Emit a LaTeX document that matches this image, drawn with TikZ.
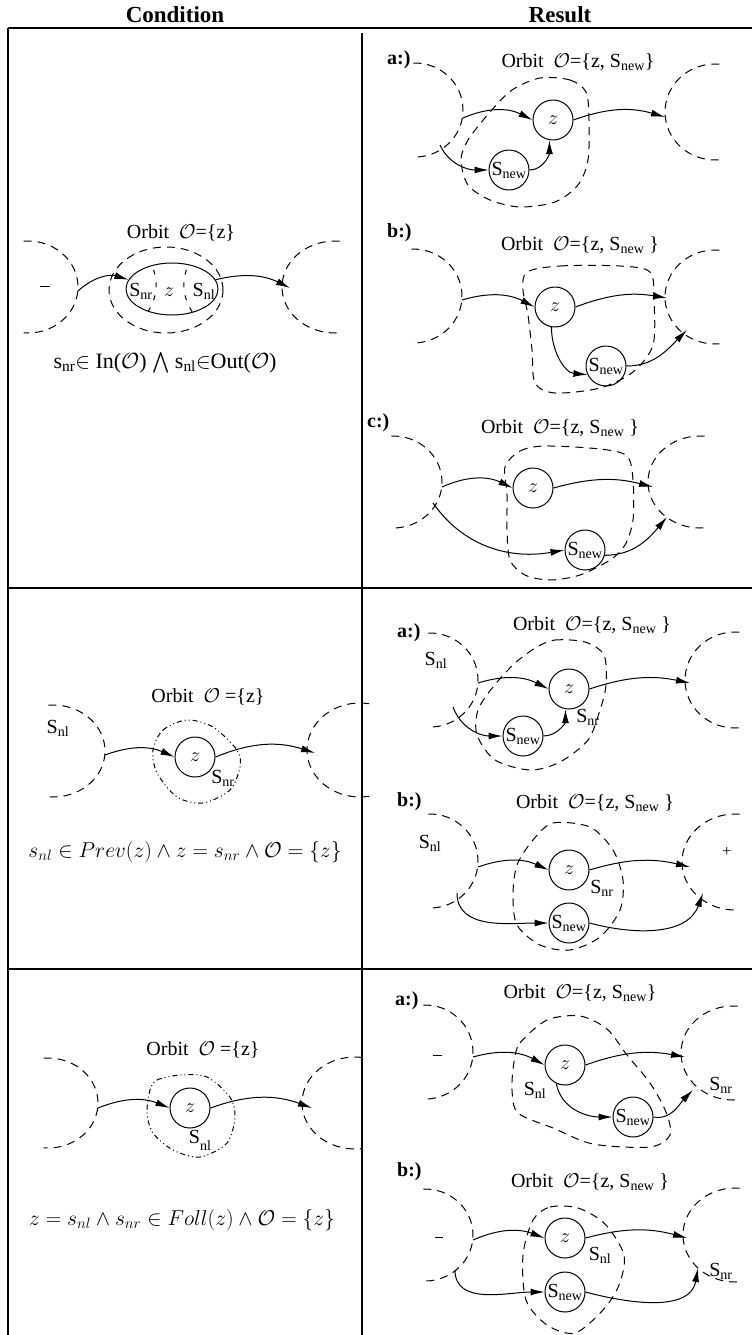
\RequirePackage{fix-cm}
\documentclass[tikz,border=0pt]{standalone}
\usepackage{amsmath}
\usepackage[no-math]{fontspec}
\setmainfont{Liberation Serif}
\usetikzlibrary{arrows.meta,shapes.geometric}
\tikzset{
  tabline/.style={line width=1.2pt},
  bound/.style={line width=1pt, dash pattern=on 8pt off 6pt},
  orbline/.style={line width=1pt, dash pattern=on 8pt off 6pt},
  orbdot/.style={line width=1pt, dash pattern=on 5pt off 3pt on 1pt off 3pt on 1pt off 3pt},
  st/.style={circle, draw, line width=1pt, minimum size=40pt, inner sep=0pt},
  arr/.style={line width=1pt, -{Latex[length=14pt,width=7pt]}},
  tag/.style={anchor=base west, inner sep=0pt, font=\fontsize{20}{24}\selectfont\bfseries},
  txt/.style={anchor=base, inner sep=0pt},
}
\newcommand{\orbsym}{$\mathcal{O}$}
\newcommand{\snew}{S\textsubscript{new}}
\newcommand{\snl}{S\textsubscript{nl}}
\newcommand{\snr}{S\textsubscript{nr}}
\newcommand{\zz}{$z$}
\begin{document}
\begin{tikzpicture}[x=1pt, y=1pt, line join=round]
\fontsize{20}{24}\selectfont
\useasboundingbox (0,0) rectangle (752,-1335);
\node[txt, font=\fontsize{23}{26}\selectfont\bfseries] (hcond) at (175,-23) {Condition};
\node[txt, font=\fontsize{23}{26}\selectfont\bfseries] (hres) at (560,-23) {Result};
\draw[tabline] (8,-28) -- (752,-28);
\draw[tabline] (8,-28) -- (8,-1335);
\draw[tabline] (362,-33) -- (362,-1335);
\draw[tabline] (8,-588) -- (752,-588);
\draw[tabline] (8,-969) -- (752,-969);
% row 1, condition
\node[txt] (o1) at (181,-238) {Orbit~~\orbsym=\{z\}};
\draw[bound] (28,-287) ++(95:50 and 46) arc[start angle=95, end angle=-95, x radius=50, y radius=46];
\draw[bound] (335,-287) ++(85:53 and 46) arc[start angle=85, end angle=275, x radius=53, y radius=46];
\draw[line width=1pt] (40,-286) -- (50,-286);
\draw[orbline] (166,-290) ellipse[x radius=57, y radius=43];
\node[ellipse, draw, line width=1pt, minimum width=92pt, minimum height=52pt, inner sep=0pt] (e1) at (172,-289) {};
\begin{scope}
  \clip (172,-289) ellipse[x radius=46, y radius=26];
  \draw[bound, dash pattern=on 5pt off 8pt] (148,-258) .. controls (160,-278) and (160,-300) .. (140,-322);
  \draw[bound, dash pattern=on 5pt off 8pt] (192,-258) .. controls (180,-278) and (180,-300) .. (200,-322);
\end{scope}
\node[txt] (snr1) at (141,-296) {\snr};
\node[txt] (z1) at (169,-296) {\zz};
\node[txt] (snl1) at (204,-296) {\snl};
\coordinate (in1) at (78,-291);
\coordinate (out1) at (290,-288);
\draw[arr] (in1) to[bend left=30] (e1.168);
\draw[arr] (e1.12) to[bend left=20] (out1);
\node[txt, font=\fontsize{22}{26}\selectfont] (f1) at (165,-368) {s\textsubscript{nr}$\in$ In(\orbsym) $\bigwedge$ s\textsubscript{nl}$\in$Out(\orbsym)};
% row 1, result a
\node[tag] (t1a) at (387,-65) {a:)};
\node[txt] (o1a) at (578,-68) {Orbit~~\orbsym=\{z, \snew\}};
\draw[bound] (415,-110) ++(92:48 and 47) arc[start angle=92, end angle=-92, x radius=48, y radius=47];
\draw[bound] (715,-112) ++(85:50 and 48) arc[start angle=85, end angle=275, x radius=50, y radius=48];
\draw[orbline] plot[smooth cycle] coordinates {(540,-78) (570,-80) (586,-92) (589,-120) (588,-160) (578,-185) (555,-202) (520,-207) (490,-200) (468,-185) (461,-160) (468,-140) (490,-112) (512,-90)};
\node[st] (z1a) at (553,-120) {\zz};
\node[st] (n1a) at (509,-170) {\snew};
\coordinate (in1a) at (463,-118);
\coordinate (low1a) at (440,-145);
\coordinate (out1a) at (665,-117);
\draw[arr] (in1a) to[bend left=25] (z1a.west);
\draw[arr] (z1a.east) to[bend left=18] (out1a);
\draw[arr] (low1a) to[out=-65, in=180] (n1a.west);
\draw[arr] (n1a.east) to[out=0, in=-90] (z1a.-100);
% row 1, result b
\node[tag] (t1b) at (387,-237) {b:)};
\node[txt] (o1b) at (580,-250) {Orbit~~\orbsym=\{z, \snew~\}};
\draw[bound] (413,-296) ++(92:49 and 47) arc[start angle=92, end angle=-92, x radius=49, y radius=47];
\draw[bound] (715,-297) ++(85:50 and 47) arc[start angle=85, end angle=275, x radius=50, y radius=47];
\draw[orbline] plot[smooth cycle] coordinates {(527,-272) (560,-266) (620,-266) (650,-272) (654,-300) (653,-345) (633,-372) (600,-388) (555,-393) (535,-383) (532,-350) (528,-315) (523,-290)};
\node[st] (z1b) at (555,-307) {\zz};
\node[st] (n1b) at (606,-366) {\snew};
\coordinate (in1b) at (462,-300);
\coordinate (out1b) at (667,-298);
\coordinate (up1b) at (687,-330);
\draw[arr] (in1b) to[bend left=22] (z1b.west);
\draw[arr] (z1b.east) to[bend left=15] (out1b);
\draw[arr] (z1b.-100) to[out=-90, in=175] (n1b.205);
\draw[arr] (n1b.east) to[out=0, in=225] (up1b);
% row 1, result c
\node[tag] (t1c) at (367,-427) {c:)};
\node[txt] (o1c) at (560,-433) {Orbit~~\orbsym=\{z, \snew~\}};
\draw[bound] (393,-482) ++(92:49 and 46) arc[start angle=92, end angle=-92, x radius=49, y radius=46];
\draw[bound] (700,-482) ++(85:52 and 46) arc[start angle=85, end angle=275, x radius=52, y radius=46];
\draw[orbline] plot[smooth cycle] coordinates {(505,-467) (520,-451) (545,-446) (600,-449) (627,-456) (633,-480) (633,-520) (625,-545) (610,-560) (580,-575) (550,-580) (525,-575) (510,-560) (507,-530) (507,-495)};
\node[st] (z1c) at (533,-488) {\zz};
\node[st] (n1c) at (585,-550) {\snew};
\coordinate (in1c) at (442,-487);
\coordinate (low1c) at (433,-503);
\coordinate (out1c) at (653,-487);
\coordinate (up1c) at (667,-517);
\draw[arr] (in1c) to[bend left=25] (z1c.west);
\draw[arr] (z1c.east) to[bend left=15] (out1c);
\draw[arr] (low1c) to[out=-55, in=190] (n1c.west);
\draw[arr] (n1c.-15) to[out=0, in=230] (up1c);
% row 2, condition
\node[txt] (o2) at (208,-702) {Orbit~~\orbsym~=\{z\}};
\draw[bound] (53,-751) ++(95:52 and 46) arc[start angle=95, end angle=-95, x radius=52, y radius=46];
\node[txt] (snl2) at (58,-733) {\snl};
\draw[bound] (360,-750) ++(80:53 and 47) arc[start angle=80, end angle=280, x radius=53, y radius=47];
\draw[orbdot] plot[smooth cycle] coordinates {(153,-750) (163,-730) (187,-720) (213,-727) (237,-750) (240,-767) (230,-790) (203,-803) (177,-797) (157,-773)};
\node[st] (z2) at (195,-757) {\zz};
\node[txt] (snr2) at (223,-783) {\snr};
\coordinate (in2) at (105,-755);
\coordinate (out2) at (315,-753);
\draw[arr] (in2) to[bend left=22] (z2.west);
\draw[arr] (z2.east) to[bend left=20] (out2);
\node[txt, font=\fontsize{21.5}{24}\selectfont] (f2) at (185,-857) {$s_{nl} \in Prev(z) \wedge z = s_{nr} \wedge \mathcal{O} = \{z\}$};
% row 2, result a
\node[tag] (t2a) at (397,-637) {a:)};
\node[txt] (o2a) at (592,-630) {Orbit~~\orbsym=\{z, \snew~\}};
\node[txt] (snl2a) at (436,-665) {\snl};
\draw[bound] (430,-680) ++(92:48 and 47) arc[start angle=92, end angle=-92, x radius=48, y radius=47];
\draw[bound] (735,-680) ++(85:50 and 48) arc[start angle=85, end angle=275, x radius=50, y radius=48];
\draw[orbline] plot[smooth cycle] coordinates {(537,-647) (555,-640) (585,-642) (604,-655) (606,-685) (600,-710) (588,-740) (560,-762) (530,-770) (495,-760) (477,-735) (478,-710) (493,-687) (515,-663)};
\node[st] (z2a) at (569,-689) {\zz};
\node[st] (n2a) at (523,-736) {\snew};
\node[txt] (snr2a) at (588,-722) {\snr};
\coordinate (in2a) at (478,-683);
\coordinate (low2a) at (453,-707);
\coordinate (out2a) at (690,-683);
\draw[arr] (in2a) to[bend left=22] (z2a.west);
\draw[arr] (z2a.east) to[bend left=15] (out2a);
\draw[arr] (low2a) to[out=-70, in=180] (n2a.west);
\draw[arr] (n2a.east) to[out=0, in=-90] (z2a.-100);
% row 2, result b
\node[tag] (t2b) at (397,-806) {b:)};
\node[txt] (o2b) at (595,-808) {Orbit~~\orbsym=\{z, \snew~\}};
\node[txt] (snl2b) at (430,-848) {\snl};
\draw[bound] (430,-861) ++(92:48 and 47) arc[start angle=92, end angle=-92, x radius=48, y radius=47];
\draw[bound] (735,-862) ++(85:53 and 48) arc[start angle=85, end angle=275, x radius=53, y radius=48];
\node[font=\fontsize{16}{18}\selectfont] (plus2b) at (727,-852) {+};
\draw[orbline] plot[smooth cycle] coordinates {(533,-840) (553,-823) (590,-827) (613,-850) (623,-880) (620,-910) (600,-937) (570,-950) (540,-945) (517,-925) (513,-895) (517,-865)};
\node[st] (z2b) at (569,-870) {\zz};
\node[txt] (snr2b) at (602,-893) {\snr};
\node[st] (n2b) at (569,-923) {\snew};
\coordinate (in2b) at (478,-867);
\coordinate (low2b) at (457,-893);
\coordinate (out2b) at (690,-867);
\coordinate (up2b) at (703,-893);
\draw[arr] (in2b) to[bend left=22] (z2b.west);
\draw[arr] (z2b.east) to[bend left=15] (out2b);
\draw[arr] (low2b) to[out=-90, in=180] (n2b.west);
\draw[arr] (n2b.east) to[out=-15, in=-110] (up2b);
% row 3, condition
\node[txt] (o3) at (203,-1055) {Orbit~~\orbsym~=\{z\}};
\draw[bound] (48,-1103) ++(95:50 and 45) arc[start angle=95, end angle=-95, x radius=50, y radius=45];
\draw[bound] (355,-1103) ++(82:53 and 46) arc[start angle=82, end angle=278, x radius=53, y radius=46];
\draw[orbdot] plot[smooth cycle] coordinates {(150,-1090) (157,-1080) (180,-1075) (207,-1077) (230,-1097) (235,-1117) (227,-1143) (200,-1157) (173,-1150) (153,-1133) (147,-1113)};
\node[st] (z3) at (190,-1108) {\zz};
\node[txt] (snl3) at (200,-1143) {S\raisebox{-7pt}{\fontsize{14}{16}\selectfont nl}};
\coordinate (in3) at (98,-1108);
\coordinate (out3) at (312,-1108);
\draw[arr] (in3) to[bend left=22] (z3.west);
\draw[arr] (z3.east) to[bend left=20] (out3);
\node[txt, font=\fontsize{21.5}{24}\selectfont] (f3) at (182,-1225) {$z = s_{nl} \wedge s_{nr} \in Foll(z) \wedge \mathcal{O} = \{z\}$};
% row 3, result a
\node[tag] (t3a) at (395,-1005) {a:)};
\node[txt] (o3a) at (580,-998) {Orbit~~\orbsym=\{z, \snew\}};
\draw[bound] (425,-1052) ++(92:48 and 47) arc[start angle=92, end angle=-92, x radius=48, y radius=47];
\draw[line width=1pt] (433,-1055) -- (442,-1055);
\draw[bound] (733,-1053) ++(85:52 and 47) arc[start angle=85, end angle=275, x radius=52, y radius=47];
\draw[orbline] plot[smooth cycle] coordinates {(514,-1062) (520,-1043) (547,-1020) (580,-1016) (607,-1029) (627,-1055) (650,-1083) (666,-1112) (670,-1135) (650,-1147) (593,-1144) (553,-1128) (518,-1113) (512,-1090)};
\node[st] (z3a) at (565,-1065) {\zz};
\node[st] (n3a) at (633,-1117) {\snew};
\node[txt] (snl3a) at (535,-1095) {\snl};
\node[txt] (snr3a) at (721,-1090) {\snr};
\coordinate (in3a) at (473,-1057);
\coordinate (out3a) at (685,-1057);
\coordinate (up3a) at (693,-1090);
\draw[arr] (in3a) to[bend left=22] (z3a.west);
\draw[arr] (z3a.east) to[bend left=15] (out3a);
\draw[arr] (z3a.-115) to[out=-80, in=180] (n3a.west);
\draw[arr] (n3a.east) to[out=-10, in=225] (up3a);
% row 3, result b
\node[tag] (t3b) at (397,-1176) {b:)};
\node[txt] (o3b) at (590,-1187) {Orbit~~\orbsym=\{z, \snew~\}};
\draw[bound] (425,-1235) ++(92:48 and 46) arc[start angle=92, end angle=-92, x radius=48, y radius=46];
\draw[line width=1pt] (435,-1237) -- (443,-1237);
\draw[bound] (735,-1235) ++(85:52 and 47) arc[start angle=85, end angle=275, x radius=52, y radius=47];
\draw[orbline] plot[smooth cycle] coordinates {(533,-1220) (550,-1207) (578,-1208) (605,-1224) (624,-1255) (619,-1285) (603,-1310) (575,-1333) (547,-1325) (526,-1300) (523,-1255)};
\node[st] (z3b) at (565,-1238) {\zz};
\node[st] (n3b) at (565,-1292) {\snew};
\node[txt] (snl3b) at (600,-1260) {\snl};
\node[txt] (snr3b) at (721,-1276) {\snr};
\coordinate (in3b) at (473,-1240);
\coordinate (low3b) at (455,-1270);
\coordinate (out3b) at (687,-1238);
\coordinate (up3b) at (698,-1268);
\draw[arr] (in3b) to[bend left=22] (z3b.west);
\draw[arr] (z3b.east) to[bend left=15] (out3b);
\draw[arr] (low3b) to[out=-90, in=180] (n3b.west);
\draw[arr] (n3b.east) to[out=-15, in=-100] (up3b);
\end{tikzpicture}
\end{document}
